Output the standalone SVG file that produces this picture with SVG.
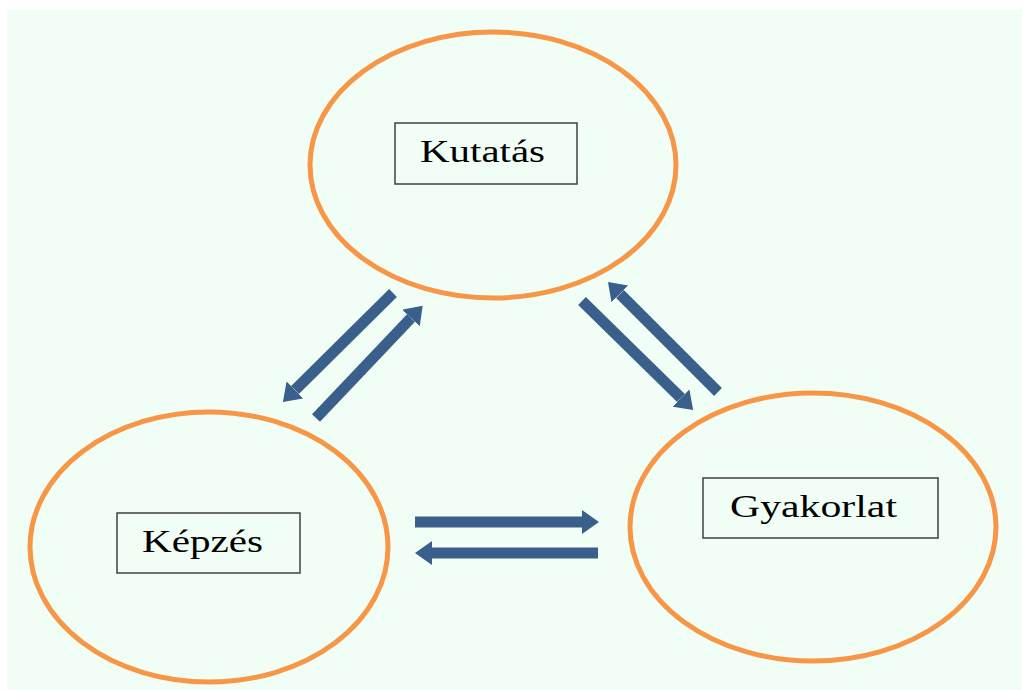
<svg xmlns="http://www.w3.org/2000/svg" width="1022" height="690" viewBox="0 0 1022 690">
  <style>
    .circ { fill: none; stroke: #f79646; stroke-width: 5; }
    .box { fill: #f1fef5; stroke: #404040; stroke-width: 1.5; }
    .lbl { font-family: "Liberation Serif", "Times New Roman", serif; font-size: 32px; fill: #000; }
    .arr { stroke: #3a5f8b; stroke-width: 11; fill: none; marker-end: url(#head); }
  </style>
  <defs>
    <marker id="head" markerUnits="userSpaceOnUse" markerWidth="17" markerHeight="24" viewBox="0 0 17 24" refX="0" refY="12" orient="auto">
      <path d="M0,0 L17,12 L0,24 Z" fill="#3a5f8b"/>
    </marker>
  </defs>
  <rect x="7" y="10" width="1015" height="680" fill="#f1fef5"/>
  <g id="kutatas">
    <ellipse class="circ" cx="493" cy="165" rx="183" ry="133"/>
    <rect class="box" x="395" y="123" width="182" height="61"/>
    <text class="lbl" x="420" y="162" textLength="125" lengthAdjust="spacingAndGlyphs">Kutatás</text>
  </g>
  <g id="kepzes">
    <ellipse class="circ" cx="209" cy="547" rx="179" ry="135"/>
    <rect class="box" x="117" y="513" width="183" height="60"/>
    <text class="lbl" x="142" y="552" textLength="121" lengthAdjust="spacingAndGlyphs">Képzés</text>
  </g>
  <g id="gyakorlat">
    <ellipse class="circ" cx="813" cy="527" rx="183" ry="134"/>
    <rect class="box" x="703" y="478" width="235" height="60"/>
    <text class="lbl" x="730" y="517" textLength="167" lengthAdjust="spacingAndGlyphs">Gyakorlat</text>
  </g>
  <g id="connectors">
    <line class="arr" x1="393" y1="293" x2="295" y2="390"/>
    <line class="arr" x1="316" y1="418" x2="411" y2="318"/>
    <line class="arr" x1="582" y1="301" x2="681" y2="398"/>
    <line class="arr" x1="718" y1="392" x2="620" y2="294"/>
    <line class="arr" x1="415" y1="522" x2="582" y2="522"/>
    <line class="arr" x1="598" y1="553" x2="432" y2="553"/>
  </g>
</svg>
